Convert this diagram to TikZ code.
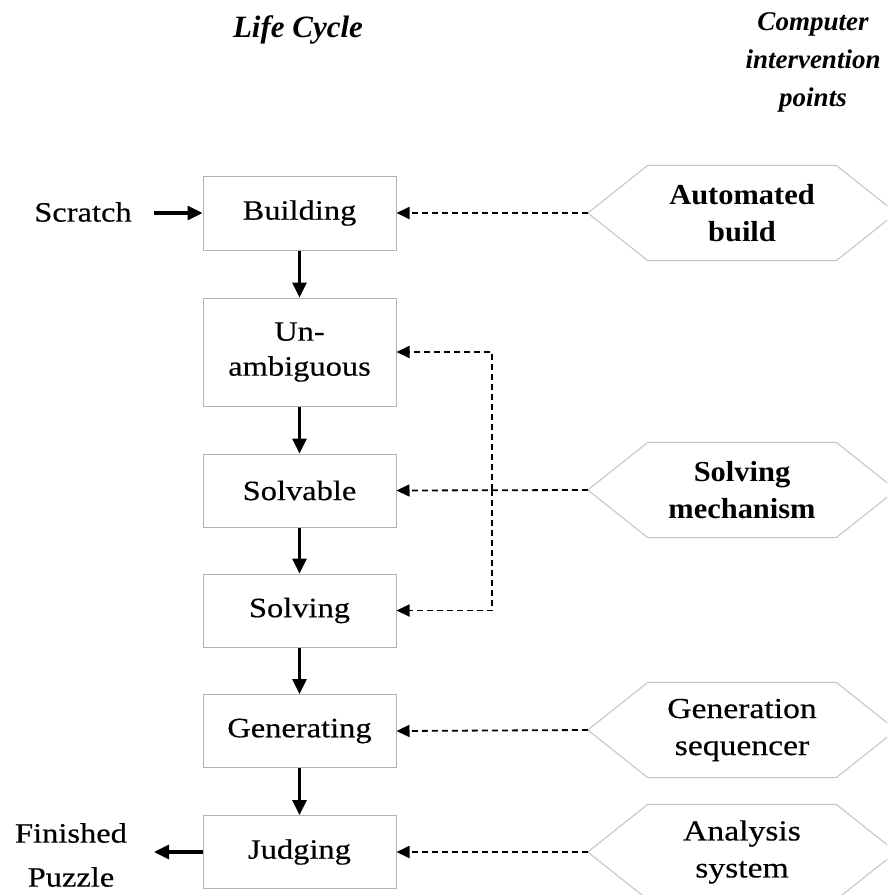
\documentclass[tikz,border=0pt]{standalone}
\usepackage{fontspec}
\setmainfont{Liberation Serif}[FakeStretch=1.16,FakeBold=0.4]
\newfontfamily\headfont{Liberation Serif}
\newfontfamily\hexfont{Liberation Serif}[FakeStretch=1.05]
\usetikzlibrary{arrows.meta}
\begin{document}
\begin{tikzpicture}[x=1pt,y=-1pt,
  stagebox/.style={draw=black!30, line width=1pt, minimum width=193pt, inner sep=0pt,
    align=center, font=\fontsize{28}{35}\selectfont},
  hexbox/.style={minimum width=308pt, minimum height=95pt, inner sep=0pt, align=center,
    font=\fontsize{29}{37}\selectfont},
  hexbold/.style={hexbox, font=\hexfont\fontsize{29}{37}\selectfont\bfseries},
  hexline/.style={draw=black!24, line width=1pt},
  flow/.style={line width=3.2pt, -{Triangle[length=15pt,width=14pt]}},
  feed/.style={line width=1.8pt, dash pattern=on 6pt off 4pt, -{Triangle[length=13pt,width=12pt]}},
  plain/.style={align=center, font=\fontsize{28}{44}\selectfont},
  heading/.style={align=center, font=\headfont\fontsize{27}{38}\selectfont\bfseries\itshape}]
\useasboundingbox (0,0) rectangle (887,895);
\clip (0,0) rectangle (887,895);

% column headings
\node[heading, font=\headfont\fontsize{31}{38}\selectfont\bfseries\itshape] (hlife) at (298,30) {Life Cycle};
\node[heading] (hcomp) at (813,62) {Computer\\intervention\\points};

% life-cycle stages
\node[stagebox, minimum height=74pt]  (build) at (299.5,213)   {Building};
\node[stagebox, minimum height=108pt] (unamb) at (299.5,352)   {Un-\\ambiguous};
\node[stagebox, minimum height=73pt]  (solvb) at (299.5,490.5) {Solvable};
\node[stagebox, minimum height=73pt]  (solvg) at (299.5,610.5) {Solving};
\node[stagebox, minimum height=73pt]  (gener) at (299.5,731)   {Generating};
\node[stagebox, minimum height=73pt]  (judge) at (299.5,852)   {Judging};

% start and end
\node[plain] (scratch) at (83,212) {Scratch};
\node[plain] (finish) at (71,855) {Finished\\Puzzle};
\coordinate (scratchend) at (154,213);
\coordinate (finishend) at (154,852);

% intervention points
\node[hexbold] (hauto) at (742,213) {Automated\\build};
\node[hexbold] (hsolv) at (742,490) {Solving\\mechanism};
\node[hexbox] (hgen) at (742,730) {Generation\\sequencer};
\node[hexbox] (hana) at (742,852) {Analysis\\system};
\foreach \h in {hauto,hsolv,hgen,hana}{
  \draw[hexline] (\h.west) -- ([xshift=60pt]\h.north west) -- ([xshift=-60pt]\h.north east)
    -- (\h.east) -- ([xshift=-60pt]\h.south east) -- ([xshift=60pt]\h.south west) -- cycle;
}

% main flow
\draw[flow] (scratchend) -- (build.west);
\draw[flow] (build) -- (unamb);
\draw[flow] (unamb) -- (solvb);
\draw[flow] (solvb) -- (solvg);
\draw[flow] (solvg) -- (gener);
\draw[flow] (gener) -- (judge);
\draw[flow] (judge.west) -- (finishend);

% computer support
\coordinate (split) at (492,490);
\draw[feed] (hauto.west) -- (build.east);
\draw[feed] (hsolv.west) -- (solvb.east);
\draw[feed] (split) |- (unamb.east);
\draw[feed] (split) |- (solvg.east);
\draw[feed] (hgen.west) -- (gener.east);
\draw[feed] (hana.west) -- (judge.east);
\end{tikzpicture}
\end{document}
